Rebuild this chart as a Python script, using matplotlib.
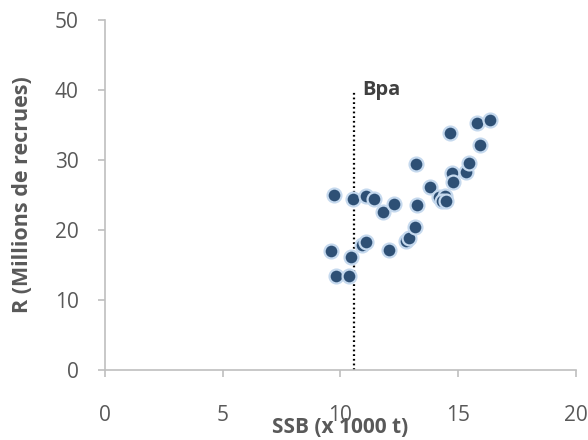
import numpy as np
import matplotlib.pyplot as plt

plt.rcParams['font.family'] = ['Open Sans', 'DejaVu Sans']

# stock / recruitment pairs
ssb = [9.6, 9.75, 9.8, 10.35, 10.45, 10.55, 10.9, 11.1, 11.1, 11.45, 11.8, 12.07,
       12.3, 12.8, 12.9, 13.16, 13.2, 13.27, 13.8, 14.2, 14.45, 14.3, 14.5,
       14.68, 14.75, 14.8, 15.33, 15.46, 15.82, 15.93, 16.34]
rec = [17.0, 25.0, 13.4, 13.5, 16.1, 24.4, 17.8, 18.3, 24.9, 24.4, 22.6, 17.1,
       23.7, 18.5, 18.8, 20.5, 29.4, 23.6, 26.2, 24.7, 24.9, 24.2, 24.2,
       33.8, 28.2, 26.8, 28.3, 29.6, 35.3, 32.1, 35.7]

bpa = 10.6
bpa_label = 'Bpa'
xticks = [0, 5, 10, 15, 20]
yticks = [0, 10, 20, 30, 40, 50]

grey = '#595959'
axcol = '#BFBFBF'

fig = plt.figure(figsize=(5.88, 4.4), dpi=100)
ax = fig.add_axes([0.1786, 0.159, 0.8004, 0.7955])

ax.scatter(ssb, rec, s=100, color='#2E5075', edgecolors='#C5D9EE', linewidths=1.6, zorder=3)

ax.plot([bpa, bpa], [0, 40], color='black', lw=1.6, ls=(0, (0.8, 1.3)), zorder=2)
ax.text(bpa + 0.33, 40, bpa_label, fontsize=14.5, fontweight='bold', color='#404040',
        ha='left', va='center')

ax.set_xlim(0, 20)
ax.set_ylim(0, 50)
ax.set_xticks(xticks)
ax.set_yticks(yticks)

for s in ['top', 'right']:
    ax.spines[s].set_visible(False)
for s in ['left', 'bottom']:
    ax.spines[s].set_color(axcol)
    ax.spines[s].set_linewidth(1.2)

ax.tick_params(axis='x', colors=axcol, labelcolor=grey, length=5, width=1.2,
               pad=20, labelsize=15)
ax.tick_params(axis='y', colors=axcol, labelcolor=grey, length=5, width=1.2,
               pad=14, labelsize=15)

ax.set_xlabel('SSB (x 1000 t)', fontsize=15, fontweight='bold', color=grey)
ax.xaxis.label.set_va('center')
ax.xaxis.set_label_coords(0.5, -0.165)
ax.set_ylabel('R (Millions de recrues)', fontsize=15.5, fontweight='bold', color=grey)
ax.yaxis.label.set_va('center')
ax.yaxis.set_label_coords(-0.176, 0.5)

fig.savefig('out.png', dpi=100)
